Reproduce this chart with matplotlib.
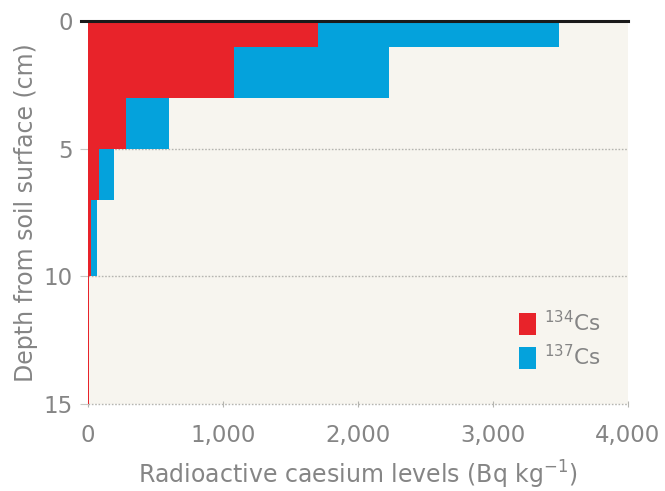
import matplotlib
matplotlib.use("Agg")
import matplotlib.pyplot as plt
from matplotlib.patches import Patch
import numpy as np

plt.rcParams['font.family'] = ['DejaVu Sans']
plt.rcParams['mathtext.fontset'] = 'dejavusans'

# Data
depth_top = [0, 1, 3, 5, 7, 10]
depth_bottom = [1, 3, 5, 7, 10, 15]
cs134 = [1700, 1080, 280, 80, 22, 10]
cs137 = [3490, 2230, 600, 193, 67, 10]
xticks = [0, 1000, 2000, 3000, 4000]
xtick_labels = ['0', '1,000', '2,000', '3,000', '4,000']
yticks = [0, 5, 10, 15]

red = '#e8232a'
blue = '#04a2dc'
grey = '#858585'

fig = plt.figure(figsize=(6.65, 4.91), dpi=100)
ax = fig.add_axes([88/665, 1-404/491, (628-88)/665, (404-21)/491])
ax.set_facecolor('#f7f5ef')

heights = np.array(depth_bottom) - np.array(depth_top)
ax.barh(depth_top, cs137, height=heights, align='edge', color=blue, linewidth=0, zorder=2)
ax.barh(depth_top, cs134, height=heights, align='edge', color=red, linewidth=0, zorder=3)

ax.set_xlim(0, 4000)
ax.set_ylim(15, 0)

for y in [5, 10, 15]:
    ax.axhline(y, color='#b5b5b0', linestyle=(0, (1.2, 1.2)), linewidth=1.0, zorder=1, clip_on=False)

# Top black line extending slightly left
ax.plot([-0.013, 1.0], [1, 1], transform=ax.transAxes, color='#1a1a1a', linewidth=2.2, clip_on=False, zorder=5)

for s in ax.spines.values():
    s.set_visible(False)

ax.set_xticks(xticks)
ax.set_xticklabels(xtick_labels)
ax.set_yticks(yticks)
ax.tick_params(axis='x', direction='inout', length=5, color='#b5b5b0', labelsize=16.5, labelcolor=grey, pad=12)
ax.tick_params(axis='y', direction='out', length=6, color='#c8c8c4', labelsize=16.5, labelcolor=grey, pad=5)

ax.set_xlabel(r'Radioactive caesium levels (Bq kg$^{-1}$)', fontsize=17, color=grey)
ax.set_ylabel('Depth from soil surface (cm)', fontsize=17, color=grey)
ax.xaxis.set_label_coords(0.5, -(459 - 404) / 383)
ax.yaxis.set_label_coords(-(88 - 38) / 540, 0.5)

handles = [Patch(facecolor=red, edgecolor='none'), Patch(facecolor=blue, edgecolor='none')]
leg = ax.legend(handles, [r'$^{134}$Cs', r'$^{137}$Cs'], loc='lower right',
                bbox_to_anchor=(0.985, 0.04), frameon=False, fontsize=15.5,
                handlelength=0.8, handleheight=1.2, handletextpad=0.35, labelspacing=0.4)
for t in leg.get_texts():
    t.set_color(grey)

fig.savefig('out.png', dpi=100, facecolor='white')
